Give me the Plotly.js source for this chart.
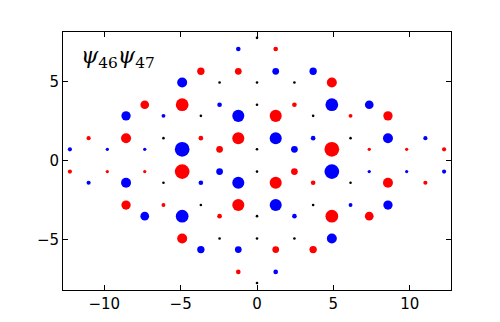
<!DOCTYPE html>
<html>
<head>
<meta charset="utf-8">
<script src="https://cdn.plot.ly/plotly-3.0.1.min.js"></script>
<style>
  html, body { margin: 0; padding: 0; background: #fff; }
  #chart { width: 500px; height: 322px; }
</style>
</head>
<body>
<div id="chart"></div>
<script>
// lattice spacing (x = k * DX, y = m * DY)
const DX = Math.sqrt(1.5);
const DY = 1 / Math.sqrt(2);

// lattice indices of every point, row by row (top to bottom)
const ptK = [
    0,
    -1, 1,
    -3, -1, 1, 3,
    -4, -2, 0, 2, 4,
    -6, -4, -2, 0, 2, 4, 6,
    -7, -5, -3, -1, 1, 3, 5, 7,
    -9, -7, -5, -3, -1, 1, 3, 5, 7, 9,
    -10, -8, -6, -4, -2, 0, 2, 4, 6, 8, 10,
    -10, -8, -6, -4, -2, 0, 2, 4, 6, 8, 10,
    -9, -7, -5, -3, -1, 1, 3, 5, 7, 9,
    -7, -5, -3, -1, 1, 3, 5, 7,
    -6, -4, -2, 0, 2, 4, 6,
    -4, -2, 0, 2, 4,
    -3, -1, 1, 3,
    -1, 1,
    0,
];
const ptM = [
    11,
    10, 10,
    8, 8, 8, 8,
    7, 7, 7, 7, 7,
    5, 5, 5, 5, 5, 5, 5,
    4, 4, 4, 4, 4, 4, 4, 4,
    2, 2, 2, 2, 2, 2, 2, 2, 2, 2,
    1, 1, 1, 1, 1, 1, 1, 1, 1, 1, 1,
    -1, -1, -1, -1, -1, -1, -1, -1, -1, -1, -1,
    -2, -2, -2, -2, -2, -2, -2, -2, -2, -2,
    -4, -4, -4, -4, -4, -4, -4, -4,
    -5, -5, -5, -5, -5, -5, -5,
    -7, -7, -7, -7, -7,
    -8, -8, -8, -8,
    -10, -10,
    -11,
];
// signed product psi46*psi47 (normalised)
const ptAmp = [
    0,
    -0.10, 0.10,
    0.25, 0.21, -0.21, -0.25,
    -0.46, 0, 0, 0, 0.46,
    0.35, 0.75, -0.10, 0, 0.10, -0.75, -0.35,
    -0.40, -0.07, 0, -0.67, 0.67, 0, 0.07, 0.40,
    0.08, 0.46, 0, 0.10, 0.67, -0.67, -0.10, 0, -0.46, -0.08,
    -0.08, -0.05, -0.05, -1.00, 0.21, 0, -0.21, 1.00, 0.05, 0.05, 0.08,
    0.08, 0.05, 0.05, 1.00, -0.21, 0, 0.21, -1.00, -0.05, -0.05, -0.08,
    -0.08, -0.46, 0, -0.10, -0.67, 0.67, 0.10, 0, 0.46, 0.08,
    0.40, 0.07, 0, 0.67, -0.67, 0, -0.07, -0.40,
    -0.35, -0.75, 0.10, 0, -0.10, 0.75, 0.35,
    0.46, 0, 0, 0, -0.46,
    -0.25, -0.21, 0.21, 0.25,
    0.10, -0.10,
    0,
];

const xs = ptK.map((k) => k * DX);
const ys = ptM.map((m) => m * DY);

function pick(test) {
    const idx = ptAmp.map((v, i) => i).filter((i) => test(ptAmp[i]));
    return {
        x: idx.map((i) => xs[i]),
        y: idx.map((i) => ys[i]),
        a: idx.map((i) => Math.abs(ptAmp[i])),
    };
}

const zero = pick((v) => v === 0);
const pos = pick((v) => v > 0);
const neg = pick((v) => v < 0);

// area-scaled markers, max amplitude -> ~14.7px diameter
const SIZEREF = 0.5 / (7.35 * 7.35);

const traces = [
    {
        x: zero.x, y: zero.y, type: "scatter", mode: "markers",
        marker: { color: "#000000", size: 2.6, opacity: 1, line: { width: 0 } },
        hoverinfo: "skip",
    },
    {
        x: pos.x, y: pos.y, type: "scatter", mode: "markers",
        marker: {
            color: "#ff0000", size: pos.a, sizemode: "area", opacity: 1,
            sizeref: SIZEREF, line: { width: 0 },
        },
    },
    {
        x: neg.x, y: neg.y, type: "scatter", mode: "markers",
        marker: {
            color: "#0000ff", size: neg.a, sizemode: "area", opacity: 1,
            sizeref: SIZEREF, line: { width: 0 },
        },
    },
];

const axisStyle = {
    showgrid: false,
    zeroline: false,
    showline: true,
    linecolor: "#000",
    linewidth: 1,
    mirror: "ticks",
    ticks: "inside",
    ticklen: 5,
    tickcolor: "#000",
    tickwidth: 1,
    tickfont: { family: "DejaVu Sans", size: 15, color: "#000" },
};

const layout = {
    width: 500,
    height: 322,
    showlegend: false,
    paper_bgcolor: "#fff",
    plot_bgcolor: "#fff",
    margin: { l: 63, r: 49, t: 32, b: 32 },
    xaxis: Object.assign({}, axisStyle, {
        range: [-12.7, 12.7],
        tickvals: [-10, -5, 0, 5, 10],
    }),
    yaxis: Object.assign({}, axisStyle, {
        range: [-8.22, 8.15],
        tickvals: [-5, 0, 5],
    }),
    annotations: [
        {
            xref: "paper", yref: "paper",
            x: 0.040, y: 0.90,
            xanchor: "left", yanchor: "middle",
            showarrow: false,
            text: "<i>ψ</i><sub>46</sub><i>ψ</i><sub>47</sub>",
            font: { family: "DejaVu Serif", size: 22, color: "#000" },
        },
    ],
};

Plotly.newPlot("chart", traces, layout, { displayModeBar: false, staticPlot: true });
</script>
</body>
</html>
